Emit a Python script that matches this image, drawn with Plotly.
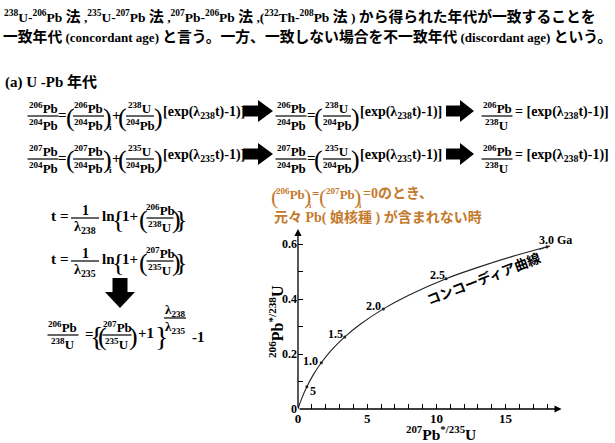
import plotly.graph_objects as go

W, H = 615, 443

# ---------------- data ----------------
ages = [0.0, 0.5, 1.0, 1.5, 2.0, 2.5, 3.0]
age_pb207_u235 = [0.0, 0.64, 1.68, 3.38, 6.17, 10.7, 18.2]
age_pb206_u238 = [0.0, 0.081, 0.168, 0.262, 0.364, 0.474, 0.593]
age_labels = ["", "5", "1.0", "1.5", "2.0", "2.5", "3.0 Ga"]

curve_pb207_u235 = [0.0, 0.25, 0.64, 1.1, 1.68, 2.4, 3.38, 4.5, 6.17, 8.0, 10.7, 13.0, 15.5, 18.2]
curve_pb206_u238 = [0.0, 0.036, 0.081, 0.124, 0.168, 0.213, 0.262, 0.308, 0.364, 0.414, 0.474, 0.515, 0.555, 0.593]

x_tick_vals = list(range(0, 19))
x_tick_text = ["0", "", "", "", "", "5", "", "", "", "", "10", "", "", "", "", "15", "", "", ""]
y_tick_vals = [0, 0.1, 0.2, 0.3, 0.4, 0.5, 0.6]
y_tick_text = ["0", "", "0.2", "", "0.4", "", "0.6"]

SERIF = "'Liberation Serif', 'Times New Roman', 'Noto Sans CJK JP', serif"
JP = "'Noto Sans CJK JP', sans-serif"
ORANGE = "#c47a2c"

annotations = []
shapes = []


def px(x):
    return x / W


def py(y):
    return 1 - y / H


def txt(x, y, s, size=15, anchor="center", color="black", weight="bold",
        family=SERIF, angle=0, yanchor="middle"):
    annotations.append(dict(
        x=px(x), y=py(y), xref="paper", yref="paper", text=s, showarrow=False,
        xanchor=anchor, yanchor=yanchor, textangle=angle, borderpad=0,
        font=dict(family=family, size=size, color=color, weight=weight)))


def frac(xc, yb, num, den, w, size=13, color="black"):
    txt(xc, yb - 8, num, size, color=color)
    txt(xc, yb + 9, den, size, color=color)
    shapes.append(dict(type="line", xref="paper", yref="paper",
                       x0=px(xc - w / 2), x1=px(xc + w / 2), y0=py(yb), y1=py(yb),
                       line=dict(color=color, width=1.2)))


def paren(x, yb, s, size=26, color="black"):
    txt(x, yb + 1, s, size, color=color, weight="normal")


def block_arrow_right(x0, yc, L=30):
    b = 5.5
    h = 11
    hx = x0 + L * 0.5
    pts = [(x0, yc - b), (hx, yc - b), (hx, yc - h), (x0 + L, yc), (hx, yc + h),
           (hx, yc + b), (x0, yc + b)]
    path = "M " + " L ".join(f"{px(a):.5f},{py(c):.5f}" for a, c in pts) + " Z"
    shapes.append(dict(type="path", xref="paper", yref="paper", path=path,
                       fillcolor="black", line=dict(color="black", width=0)))


def block_arrow_down(xc, y0):
    pts = [(xc - 7.5, y0), (xc + 7.5, y0), (xc + 7.5, y0 + 14), (xc + 15, y0 + 14),
           (xc, y0 + 30), (xc - 15, y0 + 14), (xc - 7.5, y0 + 14)]
    path = "M " + " L ".join(f"{px(a):.5f},{py(c):.5f}" for a, c in pts) + " Z"
    shapes.append(dict(type="path", xref="paper", yref="paper", path=path,
                       fillcolor="black", line=dict(color="black", width=0)))


S = lambda n, el: f"<sup>{n}</sup>{el}"
J = lambda s: f'<span style="font-size:14.8px">{s}</span>'

# ---------------- header text ----------------
txt(3, 17, S(238, "U") + "-" + S(206, "Pb") + " " + J("法") + " ," + S(235, "U") + "-" + S(207, "Pb")
    + " " + J("法") + " ," + S(207, "Pb") + "-" + S(206, "Pb") + " " + J("法") + " ,(" + S(232, "Th") + "-"
    + S(208, "Pb") + " " + J("法") + " ) " + J("から得られた年代が一致することを"), 13.5, anchor="left")
txt(2, 37, J("一致年代") + " (concordant age) " + J("と言う。一方、一致しない場合を不一致年代")
    + " (discordant age) " + J("という。"), 13, anchor="left")
txt(4, 82, "(a) U -Pb 年代", 15, anchor="left")

# ---------------- equation rows ----------------
def row(yb, a, b, lam):
    frac(43, yb, S(a, "Pb"), S(204, "Pb"), 31)
    txt(63, yb - 1, "=")
    paren(70, yb, "(")
    frac(88.5, yb, S(a, "Pb"), S(204, "Pb"), 31)
    paren(107, yb, ")")
    txt(110, yb + 11, "i", 9)
    txt(116, yb - 1, "+")
    paren(122.5, yb, "(")
    frac(140, yb, S(b, "U"), S(204, "Pb"), 28)
    paren(158, yb, ")")
    txt(162, yb - 4, f"[exp(λ<sub>{lam}</sub>t)-1)]", 14, anchor="left")
    block_arrow_right(243, yb - 5, 30)
    frac(291, yb, S(a, "Pb"), S(204, "Pb"), 31)
    txt(311, yb - 1, "=")
    paren(318.5, yb, "(")
    frac(337, yb, S(b, "U"), S(204, "Pb"), 28)
    paren(355, yb, ")")
    txt(359, yb - 4, f"[exp(λ<sub>{lam}</sub>t)-1)]", 14, anchor="left")
    block_arrow_right(446, yb - 5, 28)
    frac(497, yb, S(206, "Pb"), S(238, "U"), 31)
    txt(514, yb - 4, "= [exp(λ<sub>238</sub>t)-1)]", 14, anchor="left")


row(116, 206, 238, "238")
row(159, 207, 235, "235")

# ---------------- lower-left equations ----------------
def teq(yb, lam, a, b):
    txt(53, yb - 2, "t")
    txt(64, yb - 2, "=")
    frac(85, yb, "1", f"λ<sub>{lam}</sub>", 28, size=14)
    txt(101, yb - 2, "ln", anchor="left")
    paren(118, yb, "{", 26)
    txt(121, yb - 2, "1+", anchor="left")
    paren(143, yb, "(")
    frac(160, yb, S(a, "Pb"), S(b, "U"), 27)
    paren(176, yb, ")")
    paren(181, yb, "}", 26)


teq(218, "238", 206, 238)
teq(261, "235", 207, 235)
block_arrow_down(120, 278)

frac(63, 335, S(206, "Pb"), S(238, "U"), 31)
txt(89, 334, "=")
paren(96, 335, "{", 28)
paren(102, 335, "(")
frac(117, 335, S(207, "Pb"), S(235, "U"), 29)
paren(133, 335, ")")
txt(137, 333, "+1", anchor="left")
paren(161, 335, "}", 28)
frac(175, 318, "λ<sub>238</sub>", "λ<sub>235</sub>", 22, size=13)
txt(199, 337, "-1")

# ---------------- orange notes ----------------
paren(274, 195, "(", 22, ORANGE)
txt(290.5, 194, S(206, "Pb"), 13, color=ORANGE)
paren(307.5, 195, ")", 22, ORANGE)
txt(310, 206, "i", 8, color=ORANGE)
txt(315.5, 194, "=", 13, color=ORANGE)
paren(323, 195, "(", 22, ORANGE)
txt(340, 194, S(207, "Pb"), 13, color=ORANGE)
paren(357.5, 195, ")", 22, ORANGE)
txt(360, 206, "i", 8, color=ORANGE)
txt(362, 194, "=0のとき、", 14, anchor="left", color=ORANGE)
txt(273, 217, "元々 Pb( 娘核種 ) が含まれない時", 14, anchor="left", color=ORANGE)

# ---------------- chart ----------------
fig = go.Figure()
fig.add_trace(go.Scatter(x=curve_pb207_u235, y=curve_pb206_u238, mode="lines",
                         line=dict(color="#222222", width=1.1, shape="spline", smoothing=1),
                         hoverinfo="skip"))
fig.add_trace(go.Scatter(x=age_pb207_u235[1:-1], y=age_pb206_u238[1:-1], mode="markers",
                         marker=dict(color="#222222", size=3), hoverinfo="skip"))

label_shift = {"5": ("left", 1, -4), "1.0": ("right", -1, 2), "1.5": ("right", 0, 3),
               "2.0": ("right", 0, 3), "2.5": ("right", 1, 4), "3.0 Ga": ("left", -13, 6)}
for xv, yv, lab in zip(age_pb207_u235, age_pb206_u238, age_labels):
    if not lab:
        continue
    anc, xs, ys = label_shift[lab]
    annotations.append(dict(x=xv, y=yv, xref="x", yref="y", text=lab, showarrow=False,
                            xanchor=anc, yanchor="middle", xshift=xs, yshift=ys,
                            font=dict(family=SERIF, size=12, color="black", weight="bold")))

annotations.append(dict(x=age_pb207_u235[-1], y=age_pb206_u238[-1], xref="x", yref="y",
                        ax=-12, ay=4, text="", showarrow=True, arrowhead=2,
                        arrowsize=0.8, arrowwidth=1, arrowcolor="#222222"))
annotations.append(dict(x=19.05, y=0, xref="x", yref="y", ax=0, ay=0, axref="x", ayref="y",
                        text="", showarrow=True, arrowhead=2, arrowsize=1.1,
                        arrowwidth=1.3, arrowcolor="black"))
annotations.append(dict(x=0, y=0.655, xref="x", yref="y", ax=0, ay=0, axref="x", ayref="y",
                        text="", showarrow=True, arrowhead=2, arrowsize=1.1,
                        arrowwidth=1.3, arrowcolor="black"))

txt(483, 278, "コンコーディア曲線", 13.5, family=JP, angle=-21)
txt(441, 433, S(207, "Pb") + "<sup>*/235</sup>U", 15.5)
txt(276, 322, S(206, "Pb") + "<sup>*/238</sup>U", 16, angle=-90)

fig.update_layout(
    width=W, height=H, margin=dict(l=0, r=0, t=0, b=0, autoexpand=False),
    paper_bgcolor="white", plot_bgcolor="white", showlegend=False,
    annotations=annotations, shapes=shapes,
    font=dict(family=SERIF),
    xaxis=dict(domain=[298 / W, 563 / W], range=[0, 19.15], showgrid=False, zeroline=False,
               showline=False, tickmode="array", tickvals=x_tick_vals, ticktext=x_tick_text,
               ticks="inside", ticklen=5, tickcolor="black", tickwidth=1, automargin=False,
               tickfont=dict(family=SERIF, size=13, color="black", weight="bold"),
               fixedrange=True),
    yaxis=dict(domain=[1 - 409 / H, 1 - 227.5 / H], range=[0, 0.66], showgrid=False,
               zeroline=False, showline=False, tickmode="array", tickvals=y_tick_vals,
               ticktext=y_tick_text, ticks="inside", ticklen=5, tickcolor="black",
               tickwidth=1, automargin=False,
               tickfont=dict(family=SERIF, size=12, color="black", weight="bold"),
               fixedrange=True),
)

fig.write_html("out.html", config={"displayModeBar": False},
               post_script="document.body.style.margin='0';document.body.style.overflow='hidden';")
